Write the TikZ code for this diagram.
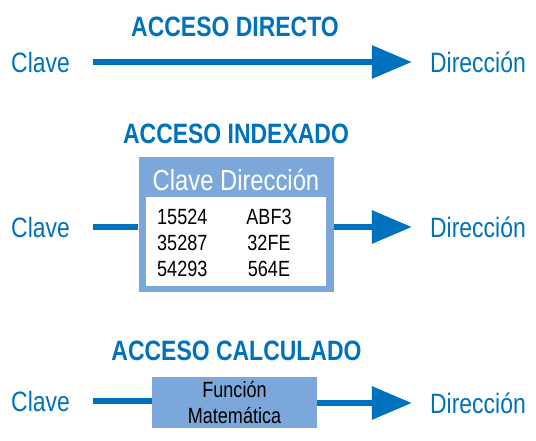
\documentclass[tikz,border=0pt]{standalone}
\usepackage{fontspec}
\setmainfont{Liberation Sans}[FakeStretch=0.82]
\usetikzlibrary{arrows.meta}

\definecolor{azul}{HTML}{0071BC}
\definecolor{celeste}{HTML}{7BA7DA}

\tikzset{
	etiqueta/.style={text=azul, font=\fontsize{28}{30}\selectfont, inner sep=0pt, text height=20pt, text depth=0pt},
	titulo/.style={text=azul, font=\bfseries\fontsize{28}{30}\selectfont, inner sep=0pt, text height=20pt, text depth=0pt},
	dato/.style={font=\fontsize{22}{24}\selectfont, inner sep=0pt, text height=16pt, text depth=0pt},
	linea/.style={draw=azul, line width=6pt},
	flecha/.style={draw=azul, line width=6pt, -{Triangle[length=40pt,width=32pt]}},
}

\begin{document}
\begin{tikzpicture}[x=1pt,y=-1pt]
	\useasboundingbox (0,0) rectangle (536,440);

	% acceso directo
	\node[titulo] (tdir) at (235,26) {ACCESO DIRECTO};
	\node[etiqueta,anchor=west] (clave1) at (11,62) {Clave};
	\node[etiqueta,anchor=east] (dir1) at (526,62) {Dirección};
	\draw[flecha] ([xshift=23pt]clave1.east) -- ([xshift=-18pt]dir1.west);

	% acceso indexado
	\node[titulo] (tind) at (236,133) {ACCESO INDEXADO};
	\node[fill=celeste, minimum width=195pt, minimum height=135pt, inner sep=0pt] (tabla) at (236,224.5) {};
	\node[fill=white, minimum width=180pt, minimum height=89pt, inner sep=0pt] (datos) at (236,241.5) {};
	\node[etiqueta,text=white,font=\fontsize{29}{31}\selectfont] (cabecera) at (236,180) {Clave Dirección};
	\node[dato,anchor=west] (k1) at (157,216) {15524};
	\node[dato,anchor=west] (k2) at (157,242) {35287};
	\node[dato,anchor=west] (k3) at (157,268) {54293};
	\node[dato] (v1) at (269,216) {ABF3};
	\node[dato] (v2) at (269,242) {32FE};
	\node[dato] (v3) at (269,268) {564E};
	\node[etiqueta,anchor=west] (clave2) at (11,227) {Clave};
	\node[etiqueta,anchor=east] (dir2) at (526,227) {Dirección};
	\draw[linea] ([xshift=23pt]clave2.east) -- (clave2.east -| tabla.west);
	\draw[flecha] (tabla.east |- dir2.west) -- ([xshift=-18pt]dir2.west);

	% acceso calculado
	\node[titulo] (tcal) at (236.5,350) {ACCESO CALCULADO};
	\node[fill=celeste, minimum width=165pt, minimum height=51pt, inner sep=0pt,
		font=\fontsize{22}{26}\selectfont, align=center] (funcion) at (234.5,402.5) {Función\\Matemática};
	\node[etiqueta,anchor=west] (clave3) at (11,401) {Clave};
	\node[etiqueta,anchor=east] (dir3) at (526,403) {Dirección};
	\draw[linea] ([xshift=23pt]clave3.east) -- (clave3.east -| funcion.west);
	\draw[flecha] (funcion.east |- dir3.west) -- ([xshift=-18pt]dir3.west);
\end{tikzpicture}
\end{document}
